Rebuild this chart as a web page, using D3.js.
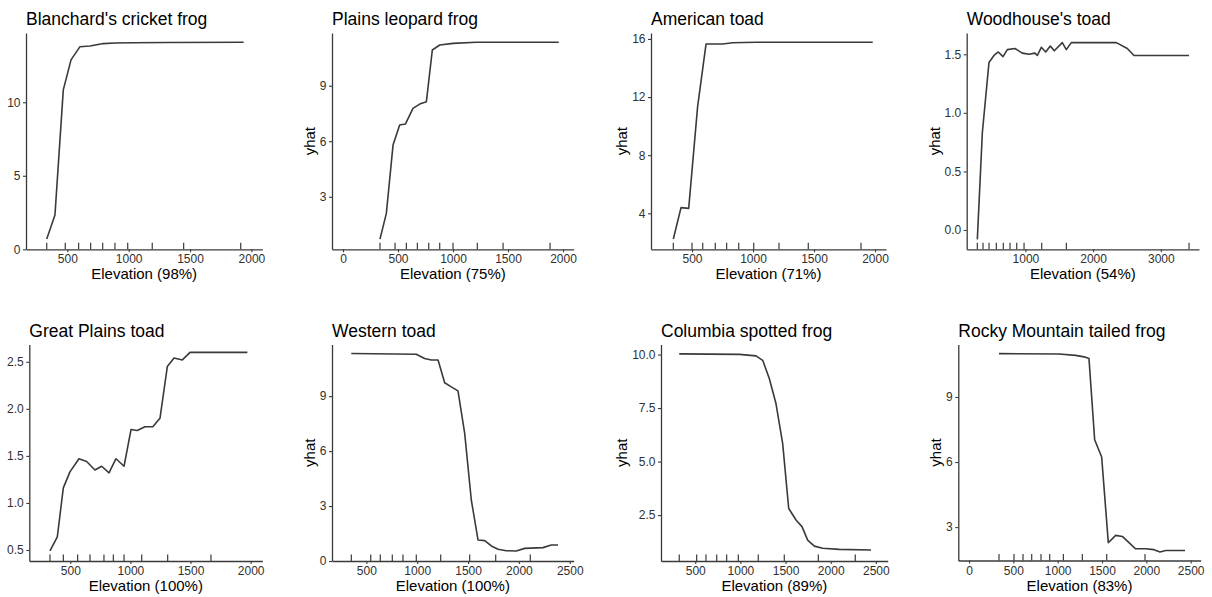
<!DOCTYPE html>
<html>
<head>
<meta charset="utf-8">
<script src="https://cdn.jsdelivr.net/npm/d3@7"></script>
<style>
  html, body { margin: 0; padding: 0; background: #fff; }
  svg { display: block; }
</style>
</head>
<body>
<svg id="chart" width="1212" height="597"></svg>
<script>
// ---------------- DATA ----------------
const titles = ["Blanchard's cricket frog", "Plains leopard frog", "American toad", "Woodhouse's toad",
                "Great Plains toad", "Western toad", "Columbia spotted frog", "Rocky Mountain tailed frog"];
const xTitles = ["Elevation (98%)", "Elevation (75%)", "Elevation (71%)", "Elevation (54%)",
                 "Elevation (100%)", "Elevation (100%)", "Elevation (89%)", "Elevation (83%)"];
const yTitle = "yhat";
const showYTitle = [false, true, true, true, false, true, true, true];

const elev1 = [332, 399, 467, 530, 603, 685, 793, 888, 1035, 1310, 1937];
const yhat1 = [0.70, 2.33, 10.84, 12.88, 13.78, 13.83, 13.99, 14.03, 14.05, 14.06, 14.08];
const elev2 = [336, 394, 455, 515, 567, 636, 697, 758, 812, 879, 1000, 1212, 1961];
const yhat2 = [0.71, 2.10, 5.80, 6.88, 6.93, 7.78, 8.01, 8.14, 10.93, 11.20, 11.29, 11.35, 11.35];
const elev3 = [347, 410, 473, 546, 615, 751, 833, 1025, 1981];
const yhat3 = [2.23, 4.39, 4.34, 11.34, 15.65, 15.65, 15.74, 15.77, 15.77];
const elev4 = [290, 364, 462, 536, 600, 669, 733, 846, 954, 1053, 1142, 1176, 1235, 1300, 1368, 1427, 1545, 1604, 1678, 2343, 2505, 2604, 3417];
const yhat4 = [-0.08, 0.83, 1.43, 1.49, 1.52, 1.48, 1.54, 1.55, 1.51, 1.50, 1.51, 1.49, 1.56, 1.52, 1.57, 1.53, 1.60, 1.54, 1.60, 1.60, 1.55, 1.49, 1.49];
const elev5 = [331, 392, 442, 497, 572, 636, 705, 761, 822, 880, 947, 1005, 1057, 1121, 1186, 1246, 1307, 1363, 1432, 1496, 1973];
const yhat5 = [0.49, 0.64, 1.16, 1.33, 1.47, 1.44, 1.35, 1.39, 1.32, 1.47, 1.39, 1.78, 1.77, 1.81, 1.81, 1.90, 2.45, 2.54, 2.52, 2.60, 2.60];
const elev6 = [352, 991, 1073, 1139, 1205, 1270, 1335, 1401, 1467, 1532, 1598, 1664, 1729, 1795, 1876, 1974, 2057, 2237, 2319, 2385];
const yhat6 = [11.33, 11.29, 11.06, 10.97, 10.97, 9.73, 9.51, 9.29, 6.97, 3.33, 1.15, 1.11, 0.82, 0.64, 0.56, 0.55, 0.69, 0.73, 0.87, 0.87];
const elev7 = [323, 988, 1173, 1247, 1320, 1394, 1468, 1535, 1616, 1682, 1745, 1819, 1911, 2095, 2446];
const yhat7 = [10.03, 10.01, 9.94, 9.73, 8.88, 7.71, 5.85, 2.81, 2.27, 1.96, 1.33, 1.05, 0.95, 0.90, 0.87];
const elev8 = [338, 1015, 1203, 1297, 1353, 1417, 1496, 1571, 1654, 1729, 1879, 1992, 2086, 2154, 2218, 2436];
const yhat8 = [11.00, 10.98, 10.92, 10.85, 10.77, 7.03, 6.23, 2.28, 2.62, 2.57, 2.00, 2.00, 1.96, 1.85, 1.92, 1.92];

// rug (elevation deciles)
const rug1 = [332, 483, 592, 690, 788, 888, 992, 1192, 1448, 1913];
const rug2 = [336, 473, 576, 676, 779, 879, 1000, 1221, 1455, 1882];
const rug3 = [347, 500, 588, 691, 784, 883, 1006, 1213, 1453, 1885];
const rug4 = [290, 374, 463, 571, 674, 773, 872, 980, 1241, 1605, 3417];
const rug5 = [331, 442, 561, 664, 780, 858, 947, 1094, 1310, 1670];
const rug6 = [352, 543, 637, 755, 860, 991, 1231, 1516, 1772, 2112];
const rug7 = [323, 516, 619, 738, 848, 977, 1198, 1486, 1863, 2272];
const rug8 = [338, 507, 609, 707, 812, 910, 1064, 1278, 1553, 1985];

// tick labels
const xTicks1 = [500, 1000, 1500, 2000];
const xTicks2 = [0, 500, 1000, 1500, 2000];
const xTicks3 = [500, 1000, 1500, 2000];
const xTicks4 = [1000, 2000, 3000];
const xTicks5 = [500, 1000, 1500, 2000];
const xTicks6 = [500, 1000, 1500, 2000, 2500];
const xTicks7 = [500, 1000, 1500, 2000, 2500];
const xTicks8 = [0, 500, 1000, 1500, 2000, 2500];
const yTicks1 = [0, 5, 10];
const yTicks2 = [3, 6, 9];
const yTicks3 = [4, 8, 12, 16];
const yTicks4 = [0.0, 0.5, 1.0, 1.5];
const yTicks5 = [0.5, 1.0, 1.5, 2.0, 2.5];
const yTicks6 = [0, 3, 6, 9];
const yTicks7 = [2.5, 5.0, 7.5, 10.0];
const yTicks8 = [3, 6, 9];
const yFormats = ["d", "d", "d", ".1f", ".1f", "d", ".1f", "d"];

// axis limits (as in the reference panels)
const xLimits = [[163, 2089], [-100, 2097], [164, 2090], [133, 3564], [159, 2097], [162, 2539], [121, 2631], [-121, 2613]];
const yLimits = [[0, 14.71], [0.16, 11.85], [1.52, 16.41], [-0.165, 1.682], [0.383, 2.684], [0, 11.82], [0.355, 10.47], [1.46, 11.42]];

// ---------------- LAYOUT ----------------
const layout = [
  {l: 26,    r: 262.3,  t: 33,    b: 249.3},
  {l: 332,   r: 573.7,  t: 33,    b: 249.3},
  {l: 651,   r: 886,    t: 33,    b: 249.3},
  {l: 966.7, r: 1199,   t: 33,    b: 249.3},
  {l: 29.3,  r: 262.3,  t: 344.5, b: 561},
  {l: 332,   r: 573.7,  t: 344.5, b: 561},
  {l: 661,   r: 887.7,  t: 344.5, b: 561},
  {l: 958.3, r: 1200.7, t: 344.5, b: 560.5}
];

const FONT = "'Liberation Sans', Arial, Helvetica, sans-serif";
const INK = "#3a3a3a";
const TICKTXT = "#303030";

const panels = [
  {x: elev1, y: yhat1, rug: rug1, xt: xTicks1, yt: yTicks1},
  {x: elev2, y: yhat2, rug: rug2, xt: xTicks2, yt: yTicks2},
  {x: elev3, y: yhat3, rug: rug3, xt: xTicks3, yt: yTicks3},
  {x: elev4, y: yhat4, rug: rug4, xt: xTicks4, yt: yTicks4},
  {x: elev5, y: yhat5, rug: rug5, xt: xTicks5, yt: yTicks5},
  {x: elev6, y: yhat6, rug: rug6, xt: xTicks6, yt: yTicks6},
  {x: elev7, y: yhat7, rug: rug7, xt: xTicks7, yt: yTicks7},
  {x: elev8, y: yhat8, rug: rug8, xt: xTicks8, yt: yTicks8}
];

const svg = d3.select("#chart");

panels.forEach((p, i) => {
  const L = layout[i];
  const g = svg.append("g");
  const xs = d3.scaleLinear().domain(xLimits[i]).range([L.l, L.r]);
  const ys = d3.scaleLinear().domain(yLimits[i]).range([L.b, L.t]);

  // rug
  const rugLen = (L.b - L.t) * 0.03;
  g.append("g").selectAll("line").data(p.rug).join("line")
    .attr("x1", d => xs(d)).attr("x2", d => xs(d))
    .attr("y1", L.b).attr("y2", L.b - rugLen)
    .attr("stroke", INK).attr("stroke-width", 1.2);

  // line
  const pts = p.x.map((v, k) => [v, p.y[k]]);
  g.append("path")
    .datum(pts)
    .attr("fill", "none")
    .attr("stroke", INK)
    .attr("stroke-width", 1.6)
    .attr("stroke-linejoin", "round")
    .attr("d", d3.line().x(d => xs(d[0])).y(d => ys(d[1])));

  // x axis
  const xAxis = g.append("g").attr("transform", `translate(0,${L.b})`)
    .call(d3.axisBottom(xs).tickValues(p.xt).tickFormat(d3.format("d")).tickSize(3).tickPadding(2.5).tickSizeOuter(0));
  // y axis
  const yAxis = g.append("g").attr("transform", `translate(${L.l},0)`)
    .call(d3.axisLeft(ys).tickValues(p.yt).tickFormat(d3.format(yFormats[i])).tickSize(3).tickPadding(2.5).tickSizeOuter(0));

  [xAxis, yAxis].forEach(a => {
    a.select(".domain").attr("stroke", INK).attr("stroke-width", 1.3);
    a.selectAll(".tick line").attr("stroke", INK).attr("stroke-width", 1.1);
    a.selectAll(".tick text").attr("fill", TICKTXT)
      .style("font-family", FONT).style("font-size", "12px");
  });

  // title
  g.append("text")
    .attr("x", L.l).attr("y", L.t - 8)
    .attr("fill", "#000")
    .style("font-family", FONT).style("font-size", "17.5px")
    .text(titles[i]);

  // x title
  g.append("text")
    .attr("x", (L.l + L.r) / 2).attr("y", L.b + 30)
    .attr("text-anchor", "middle")
    .attr("fill", "#000")
    .style("font-family", FONT).style("font-size", "15px")
    .text(xTitles[i]);

  // y title
  if (showYTitle[i]) {
    let maxW = 0;
    yAxis.selectAll(".tick text").each(function() {
      maxW = Math.max(maxW, this.getComputedTextLength());
    });
    const bx = L.l - 5.5 - maxW - 5;
    g.append("text")
      .attr("transform", `translate(${bx},${(L.t + L.b) / 2}) rotate(-90)`)
      .attr("text-anchor", "middle")
      .attr("fill", "#000")
      .style("font-family", FONT).style("font-size", "15px")
      .text(yTitle);
  }
});
</script>
</body>
</html>
